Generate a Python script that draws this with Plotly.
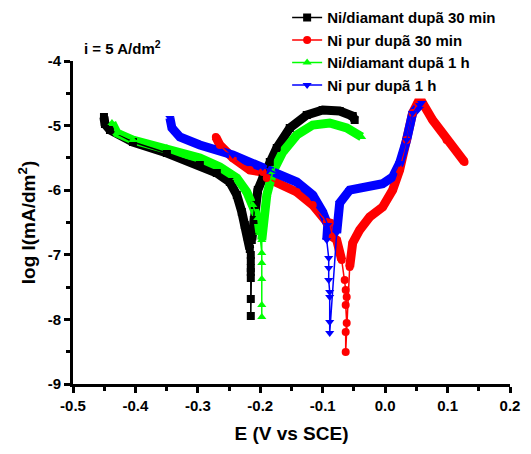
import plotly.graph_objects as go

# ---- data (E in V vs SCE, log I in mA/dm2) ----
series_names = ["Ni/diamant dupã 30 min", "Ni pur dupã 30 min",
                "Ni/diamant dupã 1 h", "Ni pur dupã 1 h"]

x_tickvals = [-0.5, -0.4, -0.3, -0.2, -0.1, 0.0, 0.1, 0.2]
x_ticklabels = ["-0.5", "-0.4", "-0.3", "-0.2", "-0.1", "0.0", "0.1", "0.2"]
y_tickvals = [-9, -8, -7, -6, -5, -4]
y_ticklabels = ["-9", "-8", "-7", "-6", "-5", "-4"]

# Ni/diamant 30 min (black)
bk_cat_E = [-0.4504, -0.4488, -0.4408, -0.404, -0.3496, -0.2968, -0.2696, -0.2488, -0.2376, -0.2296, -0.2248, -0.2200, -0.2168]
bk_cat_L = [-4.867, -4.975, -5.068, -5.254, -5.424, -5.610, -5.734, -5.873, -6.074, -6.337, -6.539, -6.724, -6.910]
bk_tail_E = [-0.2152, -0.2152, -0.2152, -0.2152, -0.2152, -0.2152, -0.2152]
bk_tail_L = [-7.003, -7.096, -7.204, -7.266, -7.359, -7.684, -7.947]
bk_an_E = [-0.2136, -0.2104, -0.2088, -0.204, -0.196, -0.1848, -0.1736, -0.1528, -0.1256, -0.100, -0.0728, -0.052, -0.0488]
bk_an_L = [-6.771, -6.461, -6.229, -5.997, -5.811, -5.563, -5.347, -5.037, -4.836, -4.759, -4.774, -4.851, -4.913]

# Ni pur 30 min (red)
rd_cat_E = [-0.2712, -0.2648, -0.244, -0.2168, -0.196, -0.1896, -0.1416, -0.116, -0.0936, -0.0888, -0.084, -0.0776, -0.0696]
rd_cat_L = [-5.176, -5.300, -5.500, -5.687, -5.718, -5.811, -6.028, -6.229, -6.492, -6.508, -6.724, -6.771, -7.080]
rd_tail_E = [-0.0648, -0.0632, -0.0616, -0.0632, -0.0616, -0.0632, -0.0632]
rd_tail_L = [-7.390, -7.545, -7.653, -7.777, -8.056, -8.195, -8.505]
rd_an_E = [-0.0568, -0.052, -0.0408, -0.0248, -0.004, 0.012, 0.0232, 0.0344, 0.044, 0.052, 0.060, 0.076, 0.0984, 0.1272]
rd_an_L = [-7.189, -6.817, -6.616, -6.415, -6.260, -5.997, -5.687, -5.223, -4.805, -4.650, -4.650, -4.913, -5.223, -5.563]

# Ni/diamant 1 h (green)
gr_cat_E = [-0.4376, -0.4296, -0.404, -0.3496, -0.2968, -0.2648, -0.2376, -0.2216, -0.212, -0.204, -0.2008]
gr_cat_L = [-4.960, -5.115, -5.223, -5.347, -5.502, -5.641, -5.811, -6.028, -6.229, -6.430, -6.663]
gr_tail_E = [-0.1976, -0.1976, -0.1976, -0.1976, -0.1976]
gr_tail_L = [-6.972, -7.127, -7.375, -7.777, -7.963]
gr_an_E = [-0.1976, -0.196, -0.1896, -0.180, -0.164, -0.1416, -0.116, -0.0888, -0.0616, -0.0376]
gr_an_L = [-6.771, -6.539, -6.074, -5.718, -5.409, -5.146, -4.991, -4.960, -5.037, -5.176]

# Ni pur 1 h (blue)
bl_cat_E = [-0.3448, -0.3416, -0.3288, -0.2968, -0.244, -0.196, -0.1688, -0.1416, -0.116, -0.100, -0.092, -0.0936]
bl_cat_L = [-4.882, -5.037, -5.176, -5.300, -5.455, -5.641, -5.760, -5.873, -6.074, -6.337, -6.539, -6.771]
bl_tail_E = [-0.0904, -0.0904, -0.0904, -0.0888, -0.0888, -0.0888, -0.0888]
bl_tail_L = [-7.050, -7.204, -7.390, -7.576, -7.653, -8.040, -8.210]
bl_an_E = [-0.0776, -0.0728, -0.0568, -0.0296, -0.004, 0.012, 0.0232, 0.0344, 0.044, 0.0552, 0.0584]
bl_an_L = [-6.663, -6.198, -5.997, -5.950, -5.900, -5.796, -5.579, -5.223, -4.805, -4.681, -4.650]

colors = ["black", "red", "#00ff00", "blue"]
symbols = ["square", "circle", "triangle-up", "triangle-down"]

data = [
    (bk_cat_E, bk_cat_L, bk_tail_E, bk_tail_L, bk_an_E, bk_an_L),
    (rd_cat_E, rd_cat_L, rd_tail_E, rd_tail_L, rd_an_E, rd_an_L),
    (gr_cat_E, gr_cat_L, gr_tail_E, gr_tail_L, gr_an_E, gr_an_L),
    (bl_cat_E, bl_cat_L, bl_tail_E, bl_tail_L, bl_an_E, bl_an_L),
]

FONT = "Liberation Sans, Arial, sans-serif"
fig = go.Figure()

# thick bands (dense markers in the original)
for (cE, cL, tE, tL, aE, aL), col in zip(data, colors):
    fig.add_trace(go.Scatter(x=cE + [None] + aE, y=cL + [None] + aL, mode="lines",
                             line=dict(color=col, width=9), showlegend=False,
                             hoverinfo="skip"))

for (cE, cL, tE, tL, aE, aL), col, sym, name in zip(data, colors, symbols, series_names):
    fig.add_trace(go.Scatter(x=cE + tE + aE, y=cL + tL + aL, mode="lines+markers",
                             name="<b>" + name + "</b>", line=dict(color=col, width=1.5),
                             marker=dict(symbol=sym, size=8, color=col)))

fig.add_annotation(text="<b>i = 5 A/dm<sup>2</sup></b>", xref="paper", yref="paper",
                   x=0.02, y=1.005, xanchor="left", yanchor="bottom", showarrow=False,
                   font=dict(family=FONT, size=15, color="black"))

axis_common = dict(showline=True, linecolor="black", linewidth=3, ticks="outside",
                   ticklen=6, tickwidth=3, tickcolor="black", showgrid=False,
                   zeroline=False, mirror=False,
                   tickfont=dict(family=FONT, size=15, color="black"))

fig.update_xaxes(range=[-0.5, 0.2], tickmode="array", tickvals=x_tickvals,
                 ticktext=["<b>" + t + "</b>" for t in x_ticklabels],
                 minor=dict(dtick=0.05, tick0=-0.5, ticks="outside", ticklen=4, tickwidth=3, tickcolor="black"),
                 title=dict(text="<b>E (V vs SCE)</b>", standoff=14,
                            font=dict(family=FONT, size=19, color="black")),
                 **axis_common)
fig.update_yaxes(range=[-9, -4], tickmode="array", tickvals=y_tickvals,
                 ticktext=["<b>" + t + "</b>" for t in y_ticklabels],
                 minor=dict(dtick=0.5, tick0=-9, ticks="outside", ticklen=4, tickwidth=3, tickcolor="black"),
                 title=dict(text="<b>log I(mA/dm<sup>2</sup>)</b>", standoff=8,
                            font=dict(family=FONT, size=19, color="black")),
                 **axis_common)

fig.update_layout(
    width=531, height=454,
    margin=dict(l=73, r=21, t=61, b=70, autoexpand=False),
    plot_bgcolor="white", paper_bgcolor="white",
    font=dict(family=FONT, color="black"),
    legend=dict(x=0.49, y=1.185, xanchor="left", yanchor="top",
                bgcolor="rgba(0,0,0,0)", tracegroupgap=0,
                font=dict(family=FONT, size=15, color="black")),
)

fig.write_html("out.html")
